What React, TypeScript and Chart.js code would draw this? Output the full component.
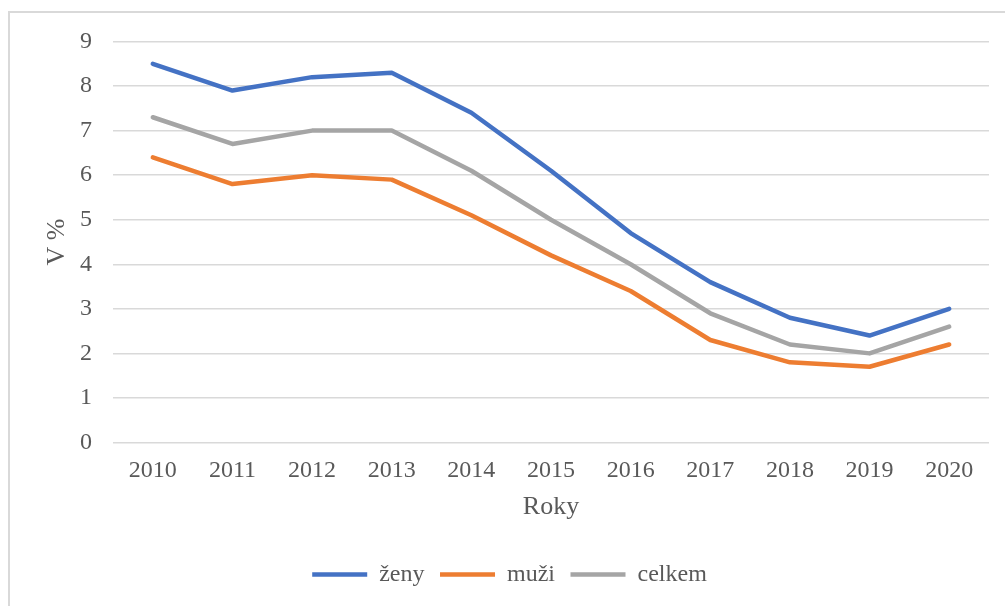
import React, { useEffect, useRef } from "react";
import { Chart, registerables } from "chart.js";

Chart.register(...registerables);

const years = ["2010", "2011", "2012", "2013", "2014", "2015", "2016", "2017", "2018", "2019", "2020"];
const zeny = [8.5, 7.9, 8.2, 8.3, 7.4, 6.1, 4.7, 3.6, 2.8, 2.4, 3.0];
const muzi = [6.4, 5.8, 6.0, 5.9, 5.1, 4.2, 3.4, 2.3, 1.8, 1.7, 2.2];
const celkem = [7.3, 6.7, 7.0, 7.0, 6.1, 5.0, 4.0, 2.9, 2.2, 2.0, 2.6];

const FONT = "'Liberation Serif', 'Times New Roman', serif";
const TEXT = "#595959";

export default function App() {
  const ref = useRef<HTMLCanvasElement>(null);
  useEffect(() => {
    if (!ref.current) return;
    const mk = (label: string, data: number[], color: string) => ({
      label,
      data,
      borderColor: color,
      backgroundColor: color,
      borderWidth: 4.5,
      borderCapStyle: "round" as const,
      borderJoinStyle: "round" as const,
      pointRadius: 0,
      pointHoverRadius: 0,
      pointStyle: "line" as const,
      tension: 0,
      fill: false,
    });
    const chart = new Chart(ref.current, {
      type: "line",
      data: {
        labels: years,
        datasets: [
          mk("ženy", zeny, "#4472C4"),
          mk("muži", muzi, "#ED7D31"),
          mk("celkem", celkem, "#A5A5A5"),
        ],
      },
      options: {
        responsive: false,
        animation: false,
        layout: { padding: { left: 30, right: 16, top: 41.5, bottom: 9.5 } },
        plugins: {
          tooltip: { enabled: false },
          legend: {
            position: "bottom",
            labels: {
              usePointStyle: true,
              pointStyleWidth: 55,
              boxHeight: 4,
              padding: 15.5,
              color: TEXT,
              font: { family: FONT, size: 24 },
            },
          },
        },
        scales: {
          x: {
            type: "category",
            offset: true,
            grid: { display: false, drawTicks: false },
            border: { display: false },
            ticks: {
              color: TEXT,
              padding: 13.6,
              maxRotation: 0,
              autoSkip: false,
              font: { family: FONT, size: 24 },
            },
            title: {
              display: true,
              text: "Roky",
              color: TEXT,
              font: { family: FONT, size: 26 },
              padding: { top: 7, bottom: 23.9 },
            },
            afterFit: (scale: any) => {
              scale.height = 104.5;
            },
          },
          y: {
            min: 0,
            max: 9,
            grid: { color: "#d9d9d9", lineWidth: 1.5, drawTicks: false },
            border: { display: false },
            ticks: {
              stepSize: 1,
              color: TEXT,
              padding: 21,
              font: { family: FONT, size: 24 },
            },
            title: {
              display: true,
              text: "V %",
              color: TEXT,
              font: { family: FONT, size: 26 },
              padding: { top: 11.4, bottom: 0 },
            },
            afterFit: (scale: any) => {
              scale.width = 83;
            },
          },
        },
      },
    });
    return () => chart.destroy();
  }, []);

  return (
    <div
      style={{
        position: "fixed",
        left: 0,
        top: 0,
        width: 1005,
        height: 606,
        overflow: "hidden",
        background: "#fff",
      }}
    >
      <div
        style={{
          position: "absolute",
          left: 8,
          top: 11,
          width: 1100,
          height: 700,
          border: "2px solid #d9d9d9",
          boxSizing: "border-box",
        }}
      />
      <canvas
        ref={ref}
        width={1005}
        height={606}
        style={{ position: "absolute", left: 0, top: 0, width: 1005, height: 606 }}
      />
    </div>
  );
}
